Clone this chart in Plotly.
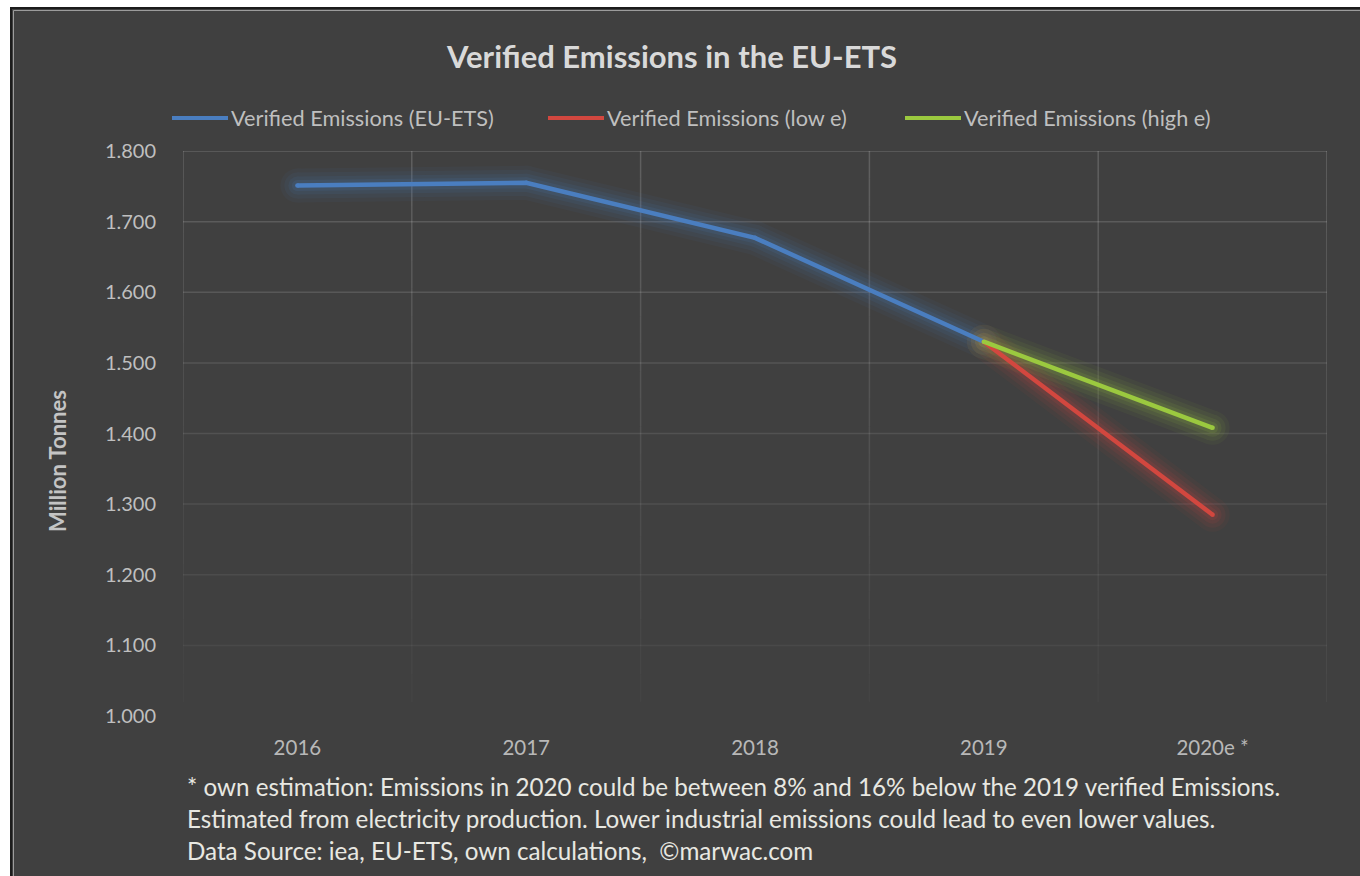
import plotly.graph_objects as go

# ---------------- data ----------------
years = ["2016", "2017", "2018", "2019", "2020e *"]
verified = [1751, 1755, 1677, 1530, None]
low_e = [None, None, None, 1530, 1285]
high_e = [None, None, None, 1530, 1408]
y_ticks = [1000, 1100, 1200, 1300, 1400, 1500, 1600, 1700, 1800]

series_names = ["Verified Emissions (EU-ETS)", "Verified Emissions (low e)", "Verified Emissions (high e)"]
colors = ["#4a7ec0", "#d2473f", "#9bc93f"]
glow_colors = ["#4a7ec0", "#d2473f", "#9bc93f"]

title_text = "Verified Emissions in the EU-ETS"
y_title = "Million Tonnes"
footer = [
    "* own estimation: Emissions in 2020 could be between 8% and 16% below the 2019 verified Emissions.",
    "Estimated from electricity production. Lower industrial emissions could lead to even lower values.",
    "Data Source: iea, EU-ETS, own calculations,  \u00a9marwac.com",
]

# ---------------- layout geometry (pixels) ----------------
W, H = 1360, 876
L, R, T, B = 183, 1327, 151, 716
PW, PH = R - L, B - T


def px(xp):
    return (xp - L) / PW


def py(yp):
    return (B - yp) / PH


FONT = "Lato"
BG = "#404040"

fig = go.Figure()

all_series = [verified, low_e, high_e]

# glow layers
for s, gc in zip(all_series, glow_colors):
    for w, op in [(34, 0.05), (26, 0.07), (18, 0.09), (11, 0.12)]:
        fig.add_trace(go.Scatter(
            x=years, y=s, mode="lines+markers",
            line=dict(color=gc, width=w),
            marker=dict(color=gc, size=w, line=dict(width=0)),
            opacity=op, showlegend=False, hoverinfo="skip", connectgaps=False,
        ))

# main lines
for s, c, n in zip(all_series, colors, series_names):
    fig.add_trace(go.Scatter(
        x=years, y=s, mode="lines+markers", name=n,
        line=dict(color=c, width=4.5),
        marker=dict(color=c, size=4.5, line=dict(width=0)),
        showlegend=False, connectgaps=False,
    ))

shapes = []
# background frame
shapes.append(dict(type="rect", xref="paper", yref="paper",
                   x0=px(11), x1=px(1370), y0=py(886), y1=py(8),
                   fillcolor=BG, line=dict(color="#1c1c1c", width=2), layer="below"))
shapes.append(dict(type="rect", xref="paper", yref="paper",
                   x0=px(13.5), x1=px(1372), y0=py(888), y1=py(10.5),
                   fillcolor="rgba(0,0,0,0)", line=dict(color="#9c9c9c", width=1), layer="below"))

# horizontal gridlines fading toward the bottom
for v in y_ticks:
    f = (v - y_ticks[0]) / (y_ticks[-1] - y_ticks[0])
    a = 0.03 + 0.13 * f if v > y_ticks[0] else 0.0
    if v == y_ticks[-1]:
        a = 0.17
    if a > 0:
        shapes.append(dict(type="line", xref="x", yref="y", x0=-0.5, x1=len(years) - 0.5,
                           y0=v, y1=v, line=dict(color=f"rgba(255,255,255,{a:.3f})", width=1.5),
                           layer="below"))

# vertical gridlines at category boundaries, fading toward the bottom
nseg = 20
top, bot = y_ticks[-1], 1020
for i in range(len(years) + 1):
    xb = i - 0.5
    for k in range(nseg):
        y0 = top - (top - bot) * k / nseg
        y1 = top - (top - bot) * (k + 1) / nseg
        f = 1 - (k + 0.5) / nseg
        a = 0.02 + 0.15 * f
        if i == len(years):
            a += 0.03
        shapes.append(dict(type="line", xref="x", yref="y", x0=xb, x1=xb, y0=y0, y1=y1,
                           line=dict(color=f"rgba(255,255,255,{a:.3f})", width=1.5), layer="below"))

# custom legend samples
legend_x = [172, 548, 905]
legend_y = 118
for lx, c in zip(legend_x, colors):
    shapes.append(dict(type="line", xref="paper", yref="paper",
                       x0=px(lx), x1=px(lx + 56), y0=py(legend_y), y1=py(legend_y),
                       line=dict(color=c, width=4)))

annotations = []
for lx, n in zip(legend_x, series_names):
    annotations.append(dict(xref="paper", yref="paper", x=px(lx + 57), y=py(legend_y),
                            xanchor="left", yanchor="middle", showarrow=False, text=n,
                            font=dict(family=FONT, size=21.7, color="#bfbfbf")))

annotations.append(dict(xref="paper", yref="paper", x=px(671), y=py(56),
                        xanchor="center", yanchor="middle", showarrow=False,
                        text=f"<b>{title_text}</b>",
                        font=dict(family=FONT, size=31, color="#d9d9d9")))

annotations.append(dict(xref="paper", yref="paper", x=px(57), y=py(461),
                        xanchor="center", yanchor="middle", showarrow=False, textangle=-90,
                        text=f"<b>{y_title}</b>",
                        font=dict(family=FONT, size=22, color="#c4c4c4")))

for j, line in enumerate(footer):
    annotations.append(dict(xref="paper", yref="paper", x=px(185), y=py(786 + 32 * j),
                            xanchor="left", yanchor="middle", showarrow=False, text=line,
                            font=dict(family=FONT, size=24.2, color="#e8e8e2")))

fig.update_layout(
    width=W, height=H,
    margin=dict(l=L, r=W - R, t=T, b=H - B, pad=0),
    paper_bgcolor="white",
    plot_bgcolor="rgba(0,0,0,0)",
    separators=",.",
    showlegend=False,
    shapes=shapes,
    annotations=annotations,
    xaxis=dict(type="category", categoryorder="array", categoryarray=years,
               range=[-0.5, len(years) - 0.5], showgrid=False, zeroline=False, showline=False,
               ticks="", ticklabelstandoff=17,
               tickfont=dict(family=FONT, size=20.5, color="#b8b8b8"), fixedrange=True),
    yaxis=dict(range=[y_ticks[0], y_ticks[-1]], tickvals=y_ticks, tickformat=",d",
               showgrid=False, zeroline=False, showline=False, ticks="",
               ticklabelstandoff=26,
               tickfont=dict(family=FONT, size=20, color="#bfbfbf"), fixedrange=True),
)

fig.write_html("out.html", config={"displayModeBar": False},
               post_script="document.body.style.margin='0';document.body.style.overflow='hidden';")
